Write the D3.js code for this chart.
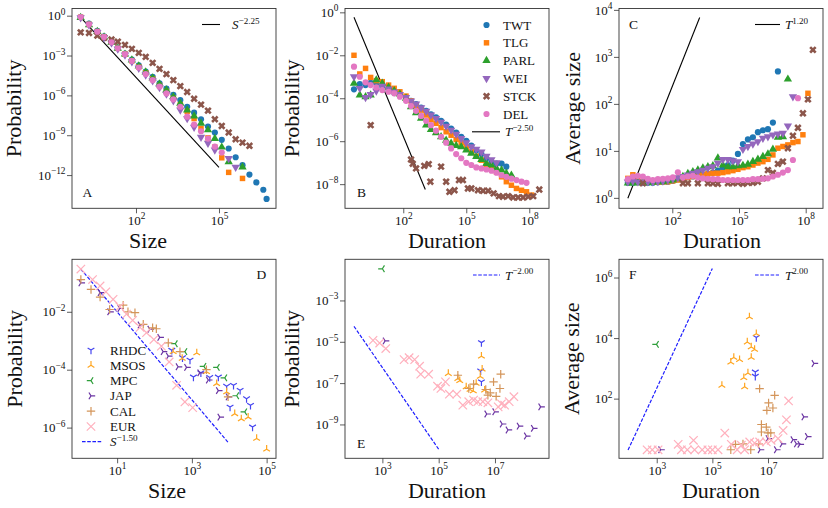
<!DOCTYPE html>
<html>
<head>
<meta charset="utf-8">
<script src="https://cdn.jsdelivr.net/npm/d3@7/dist/d3.min.js"></script>
<style>
  body { margin: 0; background: #fff; }
  svg { font-family: "Liberation Serif", "DejaVu Serif", serif; }
</style>
</head>
<body>
<svg id="chart" width="828" height="508"></svg>
<script>
// ---------- top row: TWT, TLG, PARL, WEI, STCK, DEL ----------
const topNames = ['TWT', 'TLG', 'PARL', 'WEI', 'STCK', 'DEL'];

// A: size distribution (shared size bins)
const sizeBinsA = [1, 2, 4, 7, 13, 22, 40, 71, 126, 224, 400, 708, 1260, 2240, 4000, 7080,
  12600, 22400, 40000, 70800, 126000, 224000, 400000, 708000, 1260000, 2240000, 4000000, 5250000];
const twtSizeA = [0.79, 0.25, 0.071, 0.028, 0.011, 4.0e-3, 1.4e-3, 5.0e-4, 1.8e-4, 6.3e-5, 2.5e-5, 7.9e-6,
  3.2e-6, 1.1e-6, 4.5e-7, 1.4e-7, 5.0e-8, 1.6e-8, 4.5e-9, 1.6e-9, 4.5e-10, 1.0e-10, 2.2e-11, 5.6e-12,
  1.1e-12, 2.8e-13, 7.9e-14, 1.6e-14];
const tlgSizeA = [0.76, 0.22, 0.063, 0.025, 0.010, 3.5e-3, 1.26e-3, 4.0e-4, 1.4e-4, 5.0e-5, 1.8e-5, 5.6e-6,
  2.0e-6, 6.3e-7, 2.0e-7, 6.3e-8, 1.8e-8, 3.2e-9, 6.3e-10, 1.26e-10, 2.0e-11, 1.6e-12, null, 5.6e-13];
const parlSizeA = [0.71, 0.20, 0.063, 0.025, 0.010, 3.5e-3, 1.26e-3, 4.5e-4, 1.6e-4, 5.6e-5, 2.0e-5, 7.1e-6,
  2.5e-6, 7.9e-7, 2.5e-7, 7.9e-8, 2.8e-8, 7.9e-9, 2.5e-9, 5.6e-10, 1.26e-10, 1.0e-11, null, 4.0e-12];
const weiSizeA = [0.71, 0.20, 0.056, 0.022, 8.9e-3, 3.2e-3, 1.1e-3, 3.5e-4, 1.1e-4, 3.5e-5, 1.26e-5, 4.0e-6,
  1.26e-6, 4.0e-7, 7.9e-8, 1.8e-8, 4.0e-9, 7.1e-10, 2.5e-10, 7.9e-11, null, 1.8e-11, 4.0e-12];
const stckSizeA = [0.055, 0.050, 0.032, 0.022, 0.016, 0.011, 6.3e-3, 3.2e-3, 1.6e-3, 7.9e-4, 2.8e-4, 1.0e-4,
  4.0e-5, 1.4e-5, 5.0e-6, 1.8e-6, 5.6e-7, 2.0e-7, 7.1e-8, 1.6e-8, 5.0e-9, 1.6e-9, 5.0e-10, 2.8e-10, 1.6e-10];
const delSizeA = [0.79, 0.22, 0.063, 0.025, 0.010, 3.5e-3, 1.26e-3, 4.0e-4, 1.26e-4, 4.0e-5, 1.4e-5, 4.5e-6,
  1.4e-6, 5.0e-7, 1.4e-7, 2.5e-8, 6.3e-9, 2.0e-9, 5.6e-10, 1.4e-10, 5.0e-11];
const guideA = [[1, 0.74], [1e5, 3.8e-12]];

// B: duration distribution
const durBinsB = [0.45, 0.85, 1.6, 2.8, 5.2, 10, 20, 37, 69, 135, 234, 407, 708, 1230, 2090, 3630, 6310,
  11000, 19000, 33000, 57500, 100000, 174000, 300000, 525000, 910000, 1580000, 2750000, 4800000,
  8100000, 14100000, 24500000, 42700000, 74000000, 129000000];
const twtDurB = [2.6e-4, 4.6e-4, 4.1e-4, 5.2e-4, 4.9e-4, 3.5e-4, 2.4e-4, 1.8e-4, 1.4e-4, 1.1e-4, 7.6e-5,
  5.4e-5, 3.7e-5, 2.6e-5, 1.8e-5, 1.3e-5, 8.9e-6, 6.0e-6, 3.9e-6, 2.5e-6, 1.6e-6, 1.05e-6, 6.2e-7,
  3.8e-7, 2.5e-7, 1.6e-7, 1.1e-7, 9.1e-8, 9.1e-8, 6.5e-8];
const tlgDurB = [1.0e-2, 1.35e-3, 2.45e-3, 9.3e-4, 6.6e-4, 5.9e-4, 4.1e-4, 2.9e-4, 2.0e-4, 1.26e-4, 7.6e-5,
  4.3e-5, 2.8e-5, 1.66e-5, 1.0e-5, 6.8e-6, 4.3e-6, 2.75e-6, 1.9e-6, 1.2e-6, 8.5e-7, 5.5e-7, 3.2e-7,
  2.0e-7, 1.3e-7, 7.8e-8, 5.4e-8, 3.7e-8, 2.2e-8, 1.3e-8, 8.9e-9, 6.3e-9, 5.2e-9, 4.4e-9, 3.1e-9];
const parlDurB = [4.9e-4, 1.4e-4, 1.17e-4, 1.4e-4, 7.1e-4, 4.9e-4, 3.2e-4, 2.2e-4, 1.55e-4, 1.0e-4, 4.0e-5,
  2.1e-5, 1.15e-5, 5.6e-6, 3.5e-6, 2.45e-6, 1.6e-6, 1.1e-6, 7.9e-7, 6.2e-7, 5.5e-7, 3.8e-7, 2.7e-7,
  1.9e-7, 1.4e-7, 9.1e-8, 7.8e-8, 5.4e-8, 4.5e-8, 3.2e-8, 2.6e-8];
const weiDurB = [1.0e-3, 2.9e-4, 1.1e-4, 1.5e-4, 2.2e-4, 3.7e-4, 2.75e-4, 2.0e-4, 1.5e-4, 1.1e-4, 7.6e-5,
  5.4e-5, 3.6e-5, 2.5e-5, 1.66e-5, 1.15e-5, 7.8e-6, 5.0e-6, 3.3e-6, 2.1e-6, 1.35e-6, 8.5e-7, 5.5e-7,
  4.3e-7, 3.2e-7, 2.0e-7, 1.4e-7, 1.0e-7];
const delDurB = [2.95e-3, 1.0e-3, 5.5e-4, 4.1e-4, 3.2e-4, 2.4e-4, 2.0e-4, 1.7e-4, 1.17e-4, 7.6e-5, 4.3e-5,
  2.6e-5, 1.5e-5, 8.9e-6, 5.6e-6, 3.1e-6, 1.6e-6, 8.5e-7, 4.6e-7, 2.5e-7, 1.6e-7, 9.8e-8, 7.8e-8,
  6.0e-8, 5.4e-8, 4.8e-8, 4.2e-8, 3.4e-8, 2.6e-8, 2.2e-8, 1.8e-8, 1.55e-8, 1.3e-8, 1.15e-8];
const stckDurB = [[2.8, 5.6e-6], [234, 1.4e-7], [282, 8.9e-8], [407, 5.4e-8], [1000, 7.1e-8],
  [1620, 8.5e-8], [1950, 1.3e-8], [6310, 6.5e-8], [1.1e4, 1.3e-8], [1.58e4, 4.4e-9], [2.75e4, 5.2e-9],
  [4.5e4, 1.55e-8], [6.9e4, 1.55e-8], [1.2e5, 6.3e-9], [1.74e5, 6.3e-9], [3.6e5, 5.2e-9],
  [6.3e5, 4.9e-9], [1.1e6, 4.9e-9], [2.0e6, 3.7e-9], [3.6e6, 2.75e-9], [5.6e6, 2.6e-9],
  [9.8e6, 2.75e-9], [1.7e7, 2.4e-9], [2.95e7, 2.4e-9], [5.1e7, 2.4e-9], [8.9e7, 2.6e-9],
  [1.55e8, 2.75e-9], [3.0e8, 5.6e-9]];
const guideB = [[0.45, 0.59], [1120, 5.6e-9]];

// C: average size vs duration
const durBinsC = [1, 1.68, 2.82, 4.73, 7.94, 13.3, 22.4, 37.6, 63.1, 106, 178, 299, 501, 841, 1410, 2370,
  3980, 6680, 11200, 18800, 31600, 53100, 89100, 150000, 251000, 422000, 708000, 1190000, 2000000,
  3350000, 5620000, 9440000, 15800000, 26600000, 44700000, 75000000, 126000000, 211000000];
const twtAvgC = [2.1, 2.1, 2.15, 2.1, 2.1, 2.1, 2.15, 2.2, 2.2, 2.3, 2.5, 2.6, 2.75, 2.85, 2.95, 3.1, 3.25,
  3.45, 3.8, 4.3, 5.0, 6.2, 8.6, 14, 17.5, 19.5, 25, 27.5, 29, 40, 490];
const tlgAvgC = [2.6, 3.1, 2.4, 2.2, 2.2, 2.15, 2.15, 2.2, 2.2, 2.3, 2.4, 2.55, 2.7, 2.85, 3.0, 3.1, 3.25,
  3.35, 3.35, 3.45, 3.6, 3.8, 4.05, 4.4, 4.6, 5.0, 5.5, 5.9, 6.6, 8.2, 11.4, 12.4, 13.4, 15, 15.8, 22, 168];
const parlAvgC = [2.05, 2.05, 2.1, 2.1, 2.1, 2.15, 2.2, 2.2, 2.3, 2.4, 2.6, 2.85, 3.3, 3.6, 3.9, 4.3, 4.6,
  4.8, 7.0, 5.0, 4.6, 4.6, 4.8, 4.9, 5.2, 5.9, 6.6, 7.6, 8.6, 10.8, 19.5, 20, 335];
const weiAvgC = [2.2, 2.3, 2.2, 2.2, 2.2, 2.2, 2.25, 2.3, 2.4, 2.55, 2.7, 2.85, 3.1, 3.35, 3.6, 3.9, 4.3,
  4.6, 5.5, 6.6, 6.6, 6.2, 5.9, 10.8, 12.4, 14, 15.8, 18.6, 20, 22, 23, 23.7, 34, 143];
const stckAvgC = [null, null, null, 2.05, null, null, null, null, null, null, null, 2.05, 2.05, null, 2.05,
  null, 2.05, 2.05, 2.0, null, 2.05, 2.05, 2.1, 2.0, 2.1, 2.1, 2.2, 2.6, 3.9, 3.4, 5.3, 5.9, 11.4, 21, 31,
  63, 125, 1410];
const delAvgC = [2.5, 2.85, 2.95, 2.85, 2.55, 2.4, 2.5, 2.55, 2.6, 2.75, 3.5, 2.7, 2.85, 2.95, 2.7, 2.6,
  2.55, 2.5, 2.5, 2.4, 2.4, 2.4, 2.4, 2.4, 2.4, 2.5, 2.5, 2.55, 2.6, 2.85, 3.1, 3.45, 3.9, 6.4, 132];
const guideC = [[1, 0.98], [1700, 6900]];

// ---------- bottom row: RHDC, MSOS, MPC, JAP, CAL, EUR ----------
const bottomNames = ['RHDC', 'MSOS', 'MPC', 'JAP', 'CAL', 'EUR'];

// D: size distribution, [size, probability]
const rhdcSizeD = [[290, 4.7e-4], [560, 2.6e-4], [890, 2.15e-4], [1100, 5.6e-5], [1740, 7.8e-5],
  [3000, 5.4e-5], [5100, 5.6e-5], [8500, 2.7e-5], [1.05e4, 5.1e-6], [1.3e4, 2.9e-5], [1.95e4, 1.95e-5],
  [2.9e4, 1.0e-5], [3.7e4, 5.9e-6], [4.2e4, 1.05e-6]];
const msosSizeD = [[316, 4.2e-4], [550, 2.45e-4], [1350, 3.8e-4], [2450, 8.5e-5], [4600, 3.3e-5],
  [8500, 1.7e-5], [1.4e4, 3.0e-6], [2.1e4, 2.0e-6], [3.2e4, 2.3e-6], [5.4e4, 4.2e-7], [1.0e5, 1.8e-7]];
const mpcSizeD = [[360, 7.9e-4], [650, 4.2e-4], [2100, 1.3e-4], [4800, 1.2e-4], [7600, 5.2e-5],
  [1.58e4, 1.26e-5], [2.6e4, 3.5e-6]];
const japSizeD = [[1.07, 0.10], [3.5, 0.046], [6.3, 0.010], [11.8, 0.013], [41, 3.5e-3], [75, 2.5e-3],
  [138, 1.3e-3], [170, 4.2e-4], [234, 2.95e-4], [427, 1.26e-4], [720, 1.2e-4], [1620, 7.8e-5],
  [2750, 4.4e-5], [5100, 1.9e-5], [5600, 2.3e-6], [9300, 1.15e-5]];
const calSizeD = [[1.07, 0.13], [2.0, 0.059], [3.5, 0.032], [6.3, 0.012], [14.5, 0.017], [19.5, 0.010],
  [30, 9.3e-3], [50, 3.7e-3], [89, 2.8e-3], [112, 2.6e-3], [234, 8.5e-4], [480, 4.2e-4], [2450, 1.0e-4],
  [9300, 1.15e-5]];
const eurSizeD = [[1.07, 0.30], [2.2, 0.13], [3.5, 0.078], [5.0, 0.049], [7.8, 0.027], [11.8, 0.015],
  [17.8, 8.3e-3], [26, 5.1e-3], [41, 2.9e-3], [61, 1.9e-3], [96, 1.1e-3], [153, 6.5e-4], [247, 1.85e-4],
  [390, 2.9e-5], [650, 7.7e-6], [1050, 4.9e-6]];
const guideD = [[1.06, 0.30], [9500, 3.0e-7]];

// E: duration distribution, [duration, probability]
const rhdcDurE = [[3.3e6, 9.1e-6], [3.1e6, 3.9e-7], [3.3e6, 1.15e-7]];
const msosDurE = [[2.2e5, 2.9e-7], [4.8e5, 1.66e-7], [5.6e5, 1.3e-7], [9.5e5, 6.6e-8], [1.3e6, 4.9e-8],
  [1.7e6, 4.2e-8], [2.15e6, 9.6e-8], [3.0e6, 2.1e-7], [3.3e6, 2.0e-6], [3.5e6, 4.7e-7], [4.3e6, 4.6e-8]];
const mpcDurE = [[1000, 0.034]];
const japDurE = [[1250, 1.1e-5], [5.1e6, 3.2e-9], [9.8e6, 4.1e-9], [1.8e7, 1.05e-9], [2.9e7, 5.4e-10],
  [7.2e7, 8.3e-10], [1.3e8, 2.75e-10], [2.3e8, 6.5e-10], [4.2e8, 7.1e-9]];
const calDurE = [[4.8e5, 2.4e-7], [1.17e6, 5.5e-8], [1.74e6, 8.9e-8], [4.7e6, 4.9e-8], [5.6e6, 2.6e-8],
  [6.8e6, 3.4e-8], [8.9e6, 1.15e-7], [1.1e7, 2.3e-8], [1.5e7, 5.5e-8], [1.6e7, 2.7e-7]];
const eurDurE = [[465, 1.17e-5], [800, 8.7e-6], [1320, 4.7e-6], [5900, 1.37e-6], [8900, 1.7e-6],
  [1.4e4, 1.37e-6], [2.1e4, 6.6e-7], [2.3e4, 2.7e-7], [4.4e4, 2.7e-7], [9.1e4, 7.1e-8], [1.2e5, 5.5e-8],
  [1.74e5, 1.15e-7], [2.4e5, 2.9e-8], [4.4e5, 2.9e-8], [7.2e5, 8.5e-9], [1.17e6, 1.26e-8],
  [1.74e6, 1.5e-8], [2.45e6, 1.26e-8], [3.7e6, 1.26e-8], [5.6e6, 1.12e-8], [1.3e7, 7.1e-9],
  [1.7e7, 1.0e-8], [2.2e7, 8.5e-9], [3.2e7, 1.26e-8], [4.7e7, 2.2e-8]];
const guideE = [[98, 5.6e-5], [1e5, 6.3e-11]];

// F: average size vs duration, [duration, avg size]
const rhdcAvgF = [[3.8e6, 1.05e4], [3.5e6, 760], [3.5e6, 550]];
const msosAvgF = [[2.2e5, 275], [4.6e5, 1600], [5.9e5, 2300], [9.5e5, 1950], [1.35e6, 490], [1.45e6, 245],
  [1.8e6, 7400], [2.15e6, 5.0e4], [1.9e6, 700], [2.5e6, 5100], [2.5e6, 2300], [3.3e6, 4200],
  [3.8e6, 1.4e4]];
const mpcAvgF = [[980, 6200]];
const japAvgF = [[1380, 2.05], [5.2e6, 2.05], [1e7, 4.8], [2.0e7, 2.05], [3.2e7, 3.2], [7.9e7, 4.4],
  [1.05e8, 3.2], [1.4e8, 3.1], [1.95e8, 25], [2.6e8, 5.6], [4.5e8, 1450]];
const calAvgF = [[4.6e5, 2.05], [6.8e5, 3.1], [1.26e6, 3.2], [2.4e6, 2.05], [4.6e6, 3.2], [5.0e6, 214],
  [5.8e6, 14], [8.7e6, 11.5], [5.8e6, 7.9], [1e7, 7.4], [1.26e7, 7.4], [9.1e6, 41], [1.05e7, 72],
  [1.5e7, 49], [1.74e7, 129]];
const eurAvgF = [[450, 2.05], [690, 2.05], [1120, 2.05], [5900, 3.1], [7700, 2.05], [1.26e4, 2.05],
  [2.1e4, 4.2], [2.3e4, 2.05], [4.3e4, 2.05], [6.9e4, 2.05], [1e5, 2.05], [1.6e5, 2.05], [2.8e5, 7.3],
  [4.8e5, 3.1], [7.8e5, 2.05], [1.1e6, 2.9], [1.45e6, 2.05], [2.2e6, 3.7], [3.3e6, 3.4], [5.0e6, 3.7],
  [8.7e6, 3.7], [1.3e7, 4.2], [2.3e7, 4.8], [3.5e7, 8.9], [4.6e7, 20], [5.5e7, 84]];
const guideF = [[93, 2.0], [1e5, 2.0e6]];

// ---------- drawing ----------
const svg = d3.select('#chart');
const ink = '#333';

const topColors = ['#1f77b4', '#ff7f0e', '#2ca02c', '#9467bd', '#8c564b', '#e377c2'];
const topShapes = [
  {d: d3.symbol(d3.symbolCircle, 30)(), rot: 0},
  {d: d3.symbol(d3.symbolSquare, 30)(), rot: 0},
  {d: d3.symbol(d3.symbolTriangle, 30)(), rot: 0},
  {d: d3.symbol(d3.symbolTriangle, 30)(), rot: 180},
  {d: d3.symbol(d3.symbolCross, 34)(), rot: 45},
  {d: d3.symbol(d3.symbolCircle, 30)(), rot: 0}
];
const bottomColors = ['#4646f0', '#ffa51f', '#2e9e3a', '#6b35a3', '#d4955a', '#ffb0bd'];
const r = 4.2;
const bottomShapes = [
  `M0,0V${r}M0,0L${-0.8 * r},${-0.5 * r}M0,0L${0.8 * r},${-0.5 * r}`,   // tri down
  `M0,0V${-r}M0,0L${-0.8 * r},${0.5 * r}M0,0L${0.8 * r},${0.5 * r}`,    // tri up
  `M0,0H${-r}M0,0L${0.5 * r},${-0.8 * r}M0,0L${0.5 * r},${0.8 * r}`,    // tri left
  `M0,0H${r}M0,0L${-0.5 * r},${-0.8 * r}M0,0L${-0.5 * r},${0.8 * r}`,   // tri right
  `M${-r},0H${r}M0,${-r}V${r}`,                                            // plus
  `M${-r},${-r}L${r},${r}M${-r},${r}L${r},${-r}`                           // x
];

const expText = e => (e < 0 ? '\u2212' : '') + Math.abs(e);

function supLabels(axisG) {
  axisG.selectAll('.tick text').each(function(d) {
    const t = d3.select(this).text(null);
    t.append('tspan').text('10');
    t.append('tspan').attr('font-size', '0.72em').attr('dy', '-0.6em')
      .text(expText(Math.round(Math.log10(d))));
  });
}

function makePanel(p) {
  const x = d3.scaleLog().domain(p.xDom).range([p.x0, p.x1]);
  const y = d3.scaleLog().domain(p.yDom).range([p.y1, p.y0]);
  const g = svg.append('g');
  const marks = g.append('g');

  const xa = g.append('g').attr('transform', `translate(0,${p.y1})`)
    .call(d3.axisBottom(x).tickValues(p.xTicks).tickSize(5).tickPadding(2).tickSizeOuter(0));
  const ya = g.append('g').attr('transform', `translate(${p.x0},0)`)
    .call(d3.axisLeft(y).tickValues(p.yTicks).tickSize(5).tickPadding(1.5).tickSizeOuter(0));
  [xa, ya].forEach(a => {
    a.select('.domain').remove();
    a.attr('font-family', null).attr('font-size', 13);
    a.selectAll('.tick line').attr('stroke', ink).attr('stroke-width', 0.8);
    a.selectAll('.tick text').attr('fill', '#111');
    supLabels(a);
  });

  g.append('rect').attr('x', p.x0).attr('y', p.y0)
    .attr('width', p.x1 - p.x0).attr('height', p.y1 - p.y0)
    .attr('fill', 'none').attr('stroke', ink).attr('stroke-width', 0.9);

  g.append('text').attr('x', p.xLab[0]).attr('y', p.xLab[1])
    .attr('text-anchor', 'middle').attr('font-size', 22).attr('fill', '#111').text(p.xTitle);
  g.append('text').attr('transform', `translate(${p.yLab[0]},${(p.y0 + p.y1) / 2}) rotate(-90)`)
    .attr('text-anchor', 'middle').attr('font-size', 22).attr('fill', '#111').text(p.yTitle);
  g.append('text').attr('x', p.tag[0]).attr('y', p.tag[1])
    .attr('font-size', 13.5).attr('fill', '#111').text(p.id);

  return {g, marks, x, y};
}

function binned(bins, vals) {
  return d3.zip(bins, vals).filter(d => d[1] != null);
}

function filledMarks(P, pts, k) {
  const s = topShapes[k];
  P.marks.append('g').selectAll('path').data(pts).join('path')
    .attr('d', s.d)
    .attr('transform', d => `translate(${P.x(d[0])},${P.y(d[1])}) rotate(${s.rot})`)
    .attr('fill', topColors[k]);
}

function strokeMarks(P, pts, k) {
  P.marks.append('g').selectAll('path').data(pts).join('path')
    .attr('d', bottomShapes[k])
    .attr('transform', d => `translate(${P.x(d[0])},${P.y(d[1])})`)
    .attr('fill', 'none').attr('stroke', bottomColors[k]).attr('stroke-width', 1.2);
}

function guide(P, pts, dashed) {
  P.marks.append('path')
    .attr('d', d3.line().x(d => P.x(d[0])).y(d => P.y(d[1]))(pts))
    .attr('fill', 'none')
    .attr('stroke', dashed ? '#1f1fff' : '#000')
    .attr('stroke-width', dashed ? 1.2 : 1.1)
    .attr('stroke-dasharray', dashed ? '3.6,1.6' : null);
}

function mathLabel(g, x, y, base, exp) {
  const t = g.append('text').attr('x', x).attr('y', y).attr('font-size', 13).attr('fill', '#111');
  t.append('tspan').attr('font-style', 'italic').text(base);
  t.append('tspan').attr('font-size', '0.7em').attr('dy', '-0.6em').text(exp);
}

function guideLegend(P, x0, x1, tx, y, dashed, base, exp) {
  P.g.append('line').attr('x1', x0).attr('x2', x1).attr('y1', y).attr('y2', y)
    .attr('stroke', dashed ? '#1f1fff' : '#000').attr('stroke-width', dashed ? 1.2 : 1.1)
    .attr('stroke-dasharray', dashed ? '3.6,1.6' : null);
  mathLabel(P.g, tx, y + 4.5, base, exp);
}

// ----- panel A -----
const A = makePanel({id: 'A', x0: 72, x1: 276, y0: 8.5, y1: 208.3,
  xDom: [0.486, 1.15e7], yDom: [3.16e-15, 3.47], xTicks: [1e2, 1e5], yTicks: [1, 1e-3, 1e-6, 1e-9, 1e-12],
  xTitle: 'Size', yTitle: 'Probability', xLab: [148, 247.5], yLab: [20.6], tag: [82.5, 197]});
guide(A, guideA, false);
[twtSizeA, tlgSizeA, parlSizeA, weiSizeA, stckSizeA, delSizeA]
  .forEach((v, k) => filledMarks(A, binned(sizeBinsA, v), k));
guideLegend(A, 202, 220, 232, 24.5, false, 'S', '\u22122.25');

// ----- panel B -----
const B = makePanel({id: 'B', x0: 345, x1: 549, y0: 8.5, y1: 208.3,
  xDom: [0.168, 8.7e8], yDom: [7.5e-10, 1.51], xTicks: [1e2, 1e5, 1e8], yTicks: [1, 1e-2, 1e-4, 1e-6, 1e-8],
  xTitle: 'Duration', yTitle: 'Probability', xLab: [447, 247.5], yLab: [298.6], tag: [357, 197]});
guide(B, guideB, false);
[twtDurB, tlgDurB, parlDurB, weiDurB, null, delDurB].forEach((v, k) => {
  filledMarks(B, v ? binned(durBinsB, v) : stckDurB, k);
});
topNames.forEach((name, k) => {
  const yy = 25 + 17.8 * k;
  const s = topShapes[k];
  B.g.append('path').attr('d', s.d).attr('fill', topColors[k])
    .attr('transform', `translate(486.5,${yy}) rotate(${s.rot})`);
  B.g.append('text').attr('x', 503).attr('y', yy + 4.5).attr('font-size', 13).attr('fill', '#111').text(name);
});
guideLegend(B, 472, 500, 505, 131.8, false, 'T', '\u22122.50');

// ----- panel C -----
const C = makePanel({id: 'C', x0: 619, x1: 823, y0: 8.5, y1: 208.3,
  xDom: [0.4, 6.0e8], yDom: [0.6, 1.07e4], xTicks: [1e2, 1e5, 1e8], yTicks: [1, 10, 100, 1000, 1e4],
  xTitle: 'Duration', yTitle: 'Average size', xLab: [722, 247.5], yLab: [579.6], tag: [629, 29]});
guide(C, guideC, false);
[twtAvgC, tlgAvgC, parlAvgC, weiAvgC, stckAvgC, delAvgC]
  .forEach((v, k) => filledMarks(C, binned(durBinsC, v), k));
guideLegend(C, 755, 780, 785, 24.5, false, 'T', '1.20');

// ----- panel D -----
const D = makePanel({id: 'D', x0: 72, x1: 276, y0: 259.3, y1: 458.3,
  xDom: [0.62, 1.78e5], yDom: [8.7e-8, 0.65], xTicks: [10, 1e3, 1e5], yTicks: [1e-2, 1e-4, 1e-6],
  xTitle: 'Size', yTitle: 'Probability', xLab: [167, 497.5], yLab: [22.3], tag: [256.5, 279]});
guide(D, guideD, true);
[rhdcSizeD, msosSizeD, mpcSizeD, japSizeD, calSizeD, eurSizeD].forEach((v, k) => strokeMarks(D, v, k));
bottomNames.forEach((name, k) => {
  const yy = 350 + 15.3 * k;
  D.g.append('path').attr('d', bottomShapes[k]).attr('transform', `translate(91,${yy})`)
    .attr('fill', 'none').attr('stroke', bottomColors[k]).attr('stroke-width', 1.2);
  D.g.append('text').attr('x', 110).attr('y', yy + 4.5).attr('font-size', 13).attr('fill', '#111').text(name);
});
guideLegend(D, 82, 102, 110, 441.7, true, 'S', '\u22121.50');

// ----- panel E -----
const E = makePanel({id: 'E', x0: 345, x1: 549, y0: 259.3, y1: 458.3,
  xDom: [47, 8.3e8], yDom: [2.3e-11, 0.098], xTicks: [1e3, 1e5, 1e7], yTicks: [1e-3, 1e-5, 1e-7, 1e-9],
  xTitle: 'Duration', yTitle: 'Probability', xLab: [447, 497.5], yLab: [298.6], tag: [357, 447.5]});
guide(E, guideE, true);
[rhdcDurE, msosDurE, mpcDurE, japDurE, calDurE, eurDurE].forEach((v, k) => strokeMarks(E, v, k));
guideLegend(E, 473, 500, 505, 275, true, 'T', '\u22122.00');

// ----- panel F -----
const F = makePanel({id: 'F', x0: 619, x1: 823, y0: 259.3, y1: 458.3,
  xDom: [44, 9.5e8], yDom: [1.07, 4.0e6], xTicks: [1e3, 1e5, 1e7], yTicks: [1e2, 1e4, 1e6],
  xTitle: 'Duration', yTitle: 'Average size', xLab: [721, 497.5], yLab: [578.6], tag: [629, 279]});
guide(F, guideF, true);
[rhdcAvgF, msosAvgF, mpcAvgF, japAvgF, calAvgF, eurAvgF].forEach((v, k) => strokeMarks(F, v, k));
guideLegend(F, 755, 779, 785, 275, true, 'T', '2.00');
</script>
</body>
</html>
